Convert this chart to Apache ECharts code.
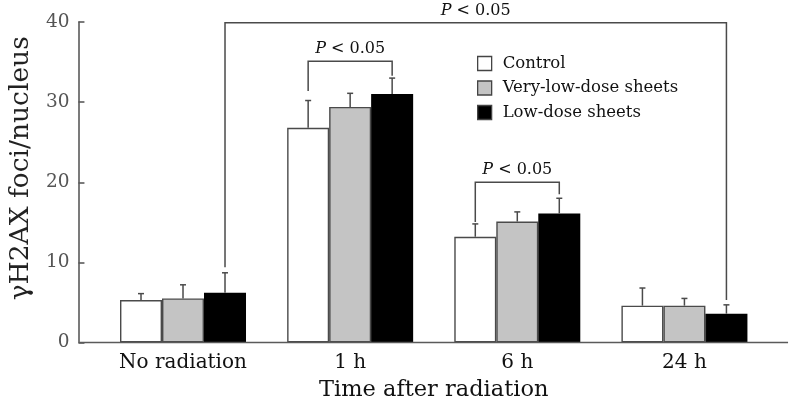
<!DOCTYPE html>
<html><head><meta charset="utf-8">
<script src="https://cdn.jsdelivr.net/npm/echarts@6/dist/echarts.min.js"></script>
<style>html,body{margin:0;padding:0;background:#fff}#c{width:792px;height:409px}</style>
</head><body><div id="c"></div>
<script>
const categories = ['No radiation', '1 h', '6 h', '24 h'];
const seriesNames = ['Control', 'Very-low-dose sheets', 'Low-dose sheets'];
const controlMean = [5.3, 26.8, 13.2, 4.6];
const veryLowMean = [5.5, 29.4, 15.1, 4.6];
const lowMean = [6.2, 31.0, 16.1, 3.6];
const controlErr = [0.8, 3.4, 1.6, 2.2];
const veryLowErr = [1.7, 1.7, 1.2, 0.9];
const lowErr = [2.5, 2.0, 1.9, 1.1];
const yTicks = [0, 10, 20, 30, 40];
// brackets: [leftCategory, leftSeries, leftBottom, rightCategory, rightSeries, rightBottom, top]
const bracketTop = [0, 2, 9.4, 3, 2, 5.3, 39.9];
const bracket1h = [1, 0, 31.4, 1, 2, 33.3, 35.1];
const bracket6h = [2, 0, 15.05, 2, 2, 18.5, 20.0];
const bracketText = 'P < 0.05';

const FONT = 'DejaVu Serif';
const BAR_W = 42;
const AX = '#5a5a5a';
const means = [controlMean, veryLowMean, lowMean];
const errs = [controlErr, veryLowErr, lowErr];
const fills = ['#ffffff', '#c4c4c4', '#000000'];
const borders = ['#4a4a4a', '#4a4a4a', '#000000'];

const errData = [];
means.forEach((m, s) => m.forEach((v, c) => errData.push([c, s, v, errs[s][c]])));

const chart = echarts.init(document.getElementById('c'), null, {renderer: 'canvas'});
const option = {
  animation: false,
  grid: {left: 97, right: 24, top: 22, bottom: 66.5, containLabel: false},
  legend: {
    orient: 'vertical', left: 477, top: 55, padding: 0, itemGap: 7.5,
    itemWidth: 14, itemHeight: 14, icon: 'rect',
    itemStyle: {borderColor: '#444', borderWidth: 1.3},
    textStyle: {fontFamily: FONT, fontSize: 16.5, color: '#111', padding: [0, 0, 0, 6]},
    data: seriesNames
  },
  xAxis: {
    type: 'category', data: categories,
    axisLine: {show: false}, axisTick: {show: false},
    axisLabel: {fontFamily: FONT, fontSize: 20, color: '#111', margin: 10},
    name: 'Time after radiation', nameLocation: 'middle', nameGap: 36,
    nameTextStyle: {fontFamily: FONT, fontSize: 22.5, color: '#111'}
  },
  yAxis: {
    type: 'value', min: yTicks[0], max: yTicks[yTicks.length - 1], interval: 10, offset: 21,
    axisLine: {show: true, lineStyle: {color: AX, width: 1.6}},
    axisTick: {show: true, inside: true, length: 6, lineStyle: {color: AX, width: 1.6}},
    splitLine: {show: false},
    axisLabel: {fontFamily: FONT, fontSize: 18.5, color: '#555', margin: 9},
    name: 'γH2AX foci/nucleus', nameLocation: 'middle', nameGap: 40,
    nameTextStyle: {fontFamily: FONT, fontSize: 26.5, color: '#222', padding: [0, 0, 0, 28]}
  },
  series: [
    ...seriesNames.map((n, s) => ({
      name: n, type: 'bar', data: means[s], barWidth: BAR_W, barGap: '0%',
      itemStyle: {color: fills[s], borderColor: borders[s], borderWidth: 1.4},
      z: 2
    })),
    {
      type: 'custom', name: 'err', data: errData, encode: {x: 0, y: 2}, z: 3,
      renderItem: function (params, api) {
        const c = api.value(0), s = api.value(1), v = api.value(2), e = api.value(3);
        const b = api.coord([c, v]);
        const t = api.coord([c, v + e]);
        const x = b[0] + (s - 1) * BAR_W;
        return {type: 'group', children: [
          {type: 'line', shape: {x1: x, y1: b[1], x2: x, y2: t[1]}, style: {stroke: '#4a4a4a', lineWidth: 1.5}},
          {type: 'line', shape: {x1: x - 3, y1: t[1], x2: x + 3, y2: t[1]}, style: {stroke: '#4a4a4a', lineWidth: 1.5}}
        ]};
      }
    },
    {
      type: 'custom', name: 'brackets', data: [bracketTop, bracket1h, bracket6h], encode: {x: 0, y: 6}, z: 4,
      renderItem: function (params, api) {
        const l = api.coord([api.value(0), api.value(2)]);
        const r = api.coord([api.value(3), api.value(5)]);
        const top = api.coord([api.value(0), api.value(6)])[1];
        const xl = l[0] + (api.value(1) - 1) * BAR_W;
        const xr = r[0] + (api.value(4) - 1) * BAR_W;
        return {type: 'group', children: [
          {type: 'polyline', shape: {points: [[xl, l[1]], [xl, top], [xr, top], [xr, r[1]]]},
           style: {stroke: '#4a4a4a', lineWidth: 1.5, fill: null}},
          {type: 'text', x: (xl + xr) / 2, y: top - 12,
           style: {text: '{i|P} < 0.05', fontFamily: FONT, fontSize: 16, fill: '#111', align: 'center', verticalAlign: 'middle',
             rich: {i: {fontFamily: FONT, fontSize: 16, fontStyle: 'italic', fill: '#111'}}}}
        ]};
      }
    },
    {
      type: 'custom', name: 'baseline', data: [[0, 0]], encode: {x: 0, y: 1}, z: 5,
      renderItem: function (params, api) {
        const a = api.coord([0, 0]);
        const b = api.coord([categories.length - 1, 0]);
        const bw = api.size([1, 0])[0];
        return {type: 'line', shape: {x1: a[0] - 0.62 * bw, y1: a[1], x2: b[0] + 0.62 * bw, y2: b[1]},
          style: {stroke: AX, lineWidth: 1.6}};
      }
    }
  ]
};
chart.setOption(option);
</script></body></html>
